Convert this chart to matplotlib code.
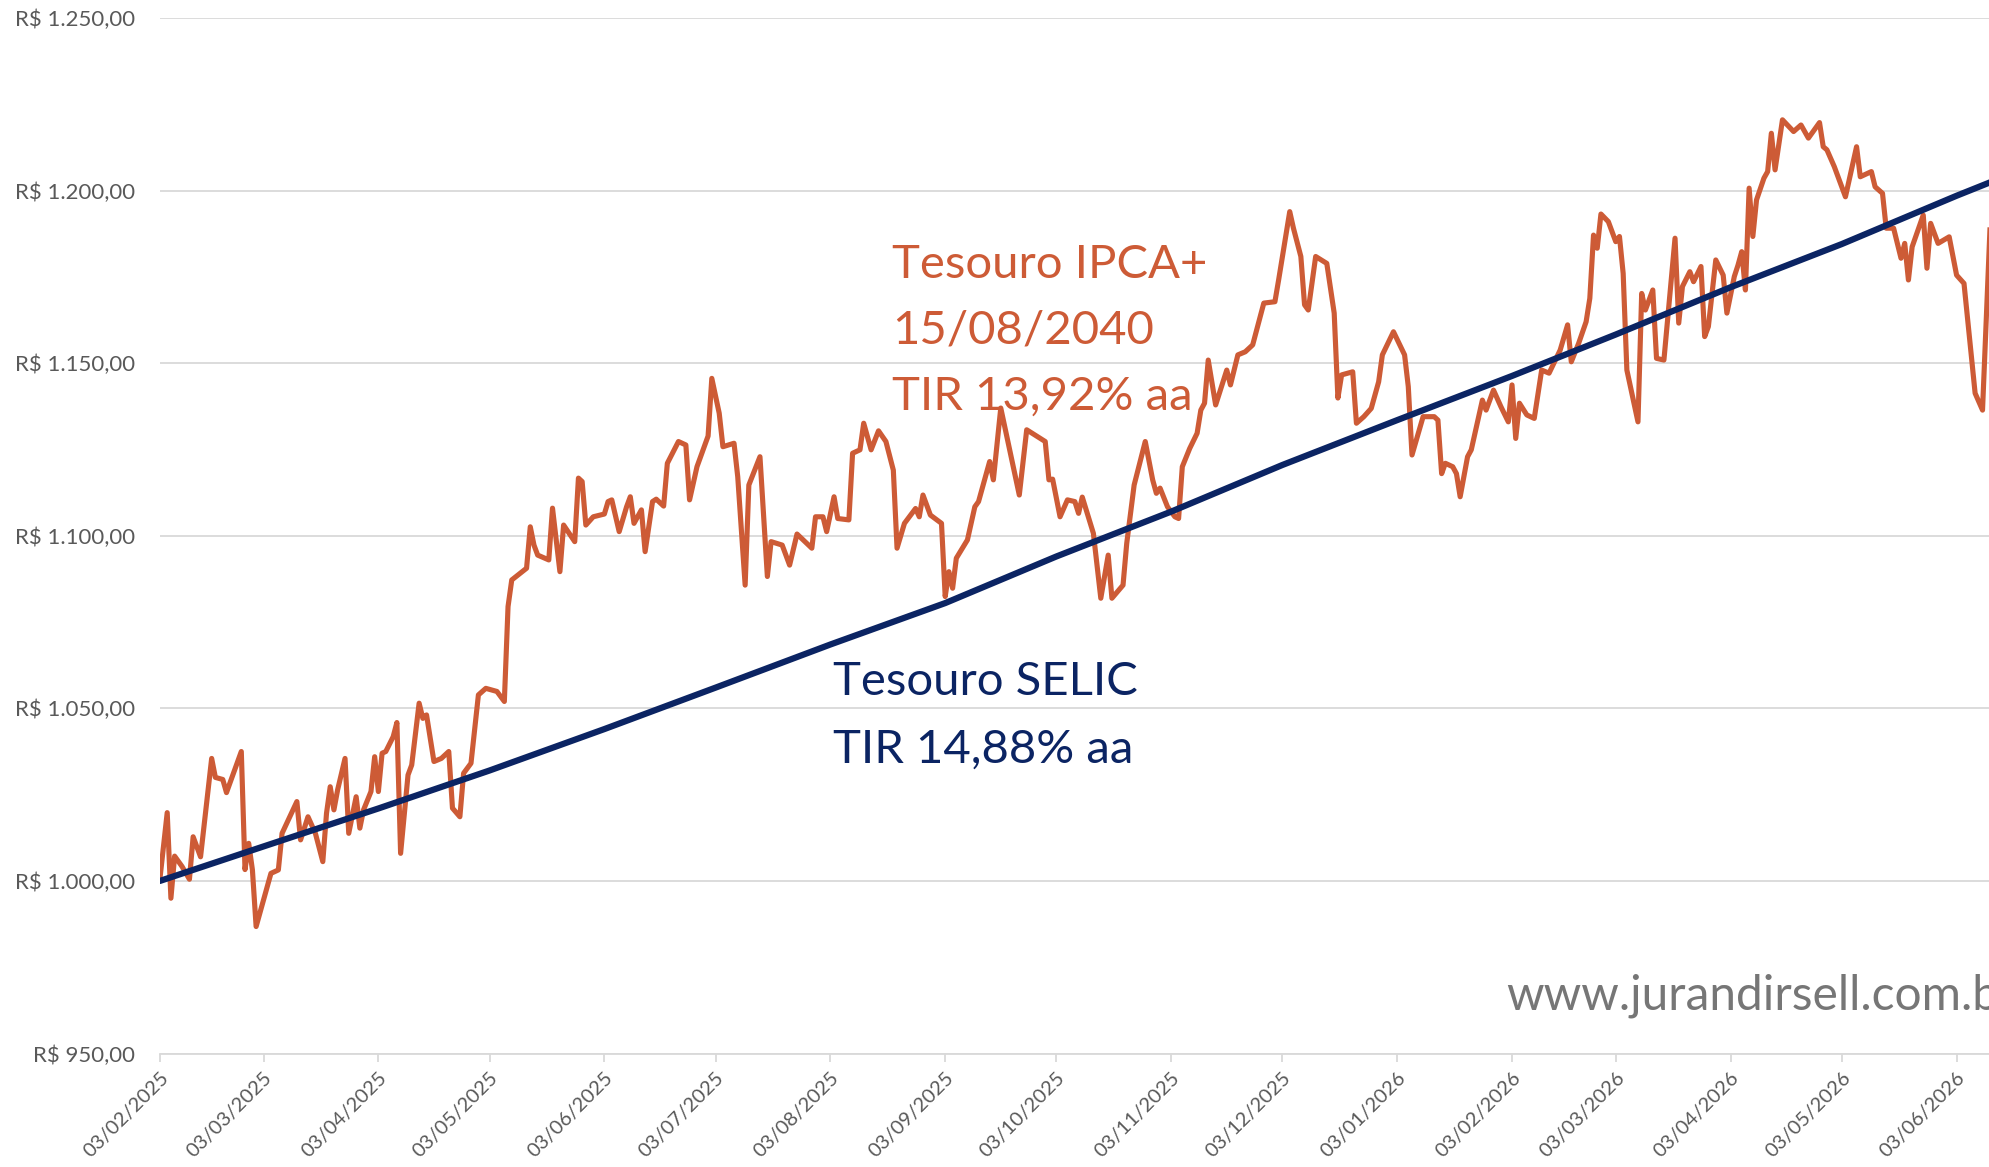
import numpy as np
import matplotlib
matplotlib.use("Agg")
import matplotlib.pyplot as plt
import matplotlib.dates as mdates
from matplotlib.ticker import FuncFormatter

plt.rcParams['font.family'] = ['Lato', 'DejaVu Sans']

# Tesouro SELIC, valores (R$)
selic_dates = ['2025-02-03', '2025-03-03', '2025-04-03', '2025-05-03', '2025-06-03', '2025-07-03',
               '2025-08-03', '2025-09-03', '2025-10-03', '2025-11-03', '2025-12-03', '2026-01-03',
               '2026-02-03', '2026-03-03', '2026-04-03', '2026-05-03', '2026-06-03', '2026-06-13']
selic_vals = [1000.0, 1010.0, 1021.0, 1032.0, 1044.0, 1056.0,
              1068.5, 1080.5, 1094.0, 1107.0, 1120.5, 1133.5,
              1146.3, 1158.3, 1172.0, 1184.5, 1198.5, 1202.8]

# Tesouro IPCA+ 2040: dias a partir de 03/02/2025 e valor (R$)
start = np.datetime64('2025-02-03')
ipca_day = [0, 2, 3, 4, 6, 8, 9, 11, 14, 15,
            17, 18, 22, 23, 24, 25, 26, 30, 32, 33,
            37, 38, 40, 42, 44, 45, 46, 47, 48, 50,
            51, 53, 54, 55, 57, 58, 59, 60, 61, 63,
            64, 65, 67, 68, 70, 71, 72, 74, 76, 78,
            79, 81, 82, 84, 86, 88, 91, 93, 94, 95,
            99, 100, 101, 102, 105, 106, 108, 109, 112, 113,
            114, 115, 117, 120, 121, 122, 124, 126, 127, 128,
            130, 131, 133, 134, 136, 137, 140, 142, 143, 145,
            148, 149, 151, 152, 155, 156, 158, 159, 162, 164,
            165, 168, 170, 172, 176, 177, 179, 180, 182, 183,
            186, 187, 189, 190, 192, 194, 196, 198, 199, 201,
            204, 205, 206, 208, 211, 212, 213, 214, 215, 218,
            220, 221, 224, 225, 227, 232, 234, 239, 240, 241,
            243, 245, 247, 248, 249, 252, 254, 256, 257, 260,
            261, 263, 266, 268, 269, 270, 272, 274, 275, 276,
            278, 280, 281, 282, 283, 285, 288, 289, 291, 293,
            295, 298, 301, 302, 305, 306, 308, 309, 310, 312,
            315, 317, 318, 319, 322, 323, 325, 327, 329, 330,
            333, 336, 337, 338, 341, 344, 345, 346, 347, 349,
            350, 351, 353, 354, 357, 358, 360, 362, 364, 365,
            366, 367, 369, 371, 373, 375, 378, 380, 381, 383,
            385, 386, 387, 388, 389, 391, 393, 394, 395, 396,
            399, 400, 401, 403, 404, 406, 409, 410, 411, 413,
            414, 416, 417, 418, 420, 422, 423, 425, 426, 427,
            428, 429, 430, 431, 433, 434, 435, 436, 438, 441,
            443, 445, 448, 449, 450, 452, 455, 458, 459, 462,
            463, 465, 466, 468, 470, 471, 472, 473, 476, 477,
            478, 480, 483, 485, 487, 490, 492, 494]
ipca_val = [1000.3, 1019.8, 995.0, 1007.2, 1004.2, 1000.5, 1012.8, 1007.0, 1035.5, 1030.0,
            1029.4, 1025.6, 1037.5, 1003.3, 1010.9, 1003.2, 986.8, 1002.2, 1003.2, 1013.8,
            1023.0, 1011.9, 1018.6, 1013.8, 1005.6, 1019.6, 1027.3, 1020.6, 1026.4, 1035.5,
            1013.8, 1024.4, 1015.3, 1020.6, 1025.9, 1036.0, 1025.9, 1037.0, 1037.5, 1041.8,
            1045.9, 1008.0, 1030.7, 1033.6, 1051.5, 1047.1, 1048.1, 1034.6, 1035.5, 1037.5,
            1021.1, 1018.6, 1031.2, 1034.1, 1053.9, 1055.8, 1054.9, 1052.0, 1079.5, 1087.2,
            1090.6, 1102.6, 1097.3, 1094.4, 1093.0, 1108.0, 1089.6, 1103.1, 1098.3, 1116.7,
            1115.7, 1103.1, 1105.5, 1106.3, 1109.9, 1110.4, 1101.2, 1108.4, 1111.3, 1103.6,
            1107.5, 1095.4, 1109.9, 1110.6, 1108.6, 1121.0, 1127.3, 1126.3, 1110.4, 1120.0,
            1128.9, 1145.6, 1135.5, 1125.8, 1126.8, 1117.1, 1085.7, 1114.7, 1122.9, 1088.2,
            1098.3, 1097.3, 1091.5, 1100.5, 1096.4, 1105.5, 1105.5, 1101.2, 1111.3, 1105.0,
            1104.6, 1123.9, 1124.9, 1132.6, 1124.9, 1130.4, 1127.3, 1119.0, 1096.4, 1103.6,
            1107.9, 1105.5, 1111.8, 1106.0, 1103.6, 1082.4, 1089.6, 1084.8, 1093.5, 1098.8,
            1108.4, 1109.9, 1121.5, 1116.2, 1137.0, 1111.8, 1130.7, 1127.3, 1116.2, 1116.4,
            1105.5, 1110.4, 1109.9, 1106.5, 1111.2, 1100.7, 1081.9, 1094.4, 1081.9, 1085.7,
            1097.8, 1114.7, 1127.3, 1116.2, 1112.3, 1113.8, 1108.4, 1105.5, 1105.0, 1120.0,
            1125.3, 1129.7, 1136.4, 1138.4, 1150.9, 1137.9, 1148.0, 1143.7, 1152.4, 1153.3,
            1155.3, 1167.4, 1167.8, 1174.1, 1193.9, 1189.1, 1180.9, 1166.9, 1165.4, 1180.9,
            1178.9, 1164.5, 1139.9, 1146.6, 1147.5, 1132.6, 1134.5, 1136.9, 1144.6, 1152.4,
            1159.1, 1152.4, 1143.2, 1123.4, 1134.5, 1134.5, 1133.5, 1118.0, 1121.0, 1120.0,
            1118.0, 1111.3, 1122.9, 1124.9, 1139.3, 1136.4, 1142.2, 1137.4, 1133.0, 1143.7,
            1128.2, 1138.4, 1135.0, 1134.0, 1148.0, 1147.1, 1153.8, 1161.1, 1150.4, 1155.8,
            1162.0, 1168.8, 1187.1, 1183.3, 1193.2, 1191.0, 1185.2, 1186.7, 1176.0, 1148.0,
            1133.0, 1170.2, 1165.4, 1171.2, 1151.4, 1150.9, 1186.2, 1161.6, 1172.2, 1176.5,
            1173.6, 1178.0, 1157.7, 1160.6, 1179.9, 1175.5, 1164.5, 1175.1, 1178.4, 1182.3,
            1171.2, 1200.7, 1186.7, 1197.3, 1203.6, 1205.5, 1216.6, 1206.0, 1220.5, 1217.1,
            1219.0, 1215.2, 1219.7, 1212.7, 1211.8, 1206.9, 1198.2, 1212.7, 1204.0, 1205.5,
            1201.1, 1199.2, 1189.1, 1189.1, 1180.4, 1184.7, 1174.1, 1183.7, 1192.9, 1177.5,
            1190.5, 1184.7, 1186.6, 1175.5, 1173.1, 1141.3, 1136.4, 1188.6]

y_ticks = [950, 1000, 1050, 1100, 1150, 1200, 1250]

ipca_txt = ["Tesouro IPCA+", "15/08/2040", "TIR 13,92% aa"]
selic_txt = ["Tesouro SELIC", "TIR 14,88% aa"]

laranja = '#CD5B36'
azul = '#0B2463'
cinza = '#D9D9D9'

ipca_dates = start + np.array(ipca_day, dtype='timedelta64[D]')
selic_d = np.array(selic_dates, dtype='datetime64[D]')

fig = plt.figure(figsize=(19.9, 11.67), dpi=100)
# o grafico original esta cortado a direita, entao o eixo passa da borda
ax = fig.add_axes([0.0803, 0.0972, 0.9569, 0.8874])

ax.plot(ipca_dates, ipca_val, color=laranja, lw=3.7, solid_joinstyle='round', zorder=3)
ax.plot(selic_d, selic_vals, color=azul, lw=4.5, solid_capstyle='round', zorder=4)

ax.set_ylim(950, 1250)
ax.set_xlim(start, start + np.timedelta64(514, 'D'))
ax.set_yticks(y_ticks)


def reais(v, pos):
    s = f"{v:,.2f}".replace(",", "X").replace(".", ",").replace("X", ".")
    return "R$ " + s


ax.yaxis.set_major_formatter(FuncFormatter(reais))
ax.xaxis.set_major_locator(mdates.MonthLocator(bymonthday=3))
ax.xaxis.set_major_formatter(mdates.DateFormatter('%d/%m/%Y'))

ax.grid(axis='y', color=cinza, lw=1.3, zorder=0)
for s in ['left', 'right', 'top']:
    ax.spines[s].set_visible(False)
ax.spines['bottom'].set_color(cinza)
ax.spines['bottom'].set_linewidth(1.3)

ax.tick_params(axis='y', length=0, pad=18, labelsize=16, labelcolor='#595959')
ax.tick_params(axis='x', length=6, width=1.3, color=cinza, pad=5, labelsize=14.5, labelcolor='#595959')
for lab in ax.get_xticklabels():
    lab.set_rotation(45)
    lab.set_ha('right')
    lab.set_va('top')
    lab.set_rotation_mode('anchor')

W, H = 1990.0, 1167.0
for i, t in enumerate(ipca_txt):
    fig.text(892 / W, 1 - (278 + 66 * i) / H, t, color=laranja, fontsize=34, va='baseline', ha='left')
for i, t in enumerate(selic_txt):
    fig.text(833 / W, 1 - (695 + 68 * i) / H, t, color=azul, fontsize=34, va='baseline', ha='left')

fig.text(1506 / W, 1 - 1009 / H, "www.jurandirsell.com.br", color='#767676', fontsize=34.5,
         va='baseline', ha='left')

fig.savefig("out.png", dpi=100)
